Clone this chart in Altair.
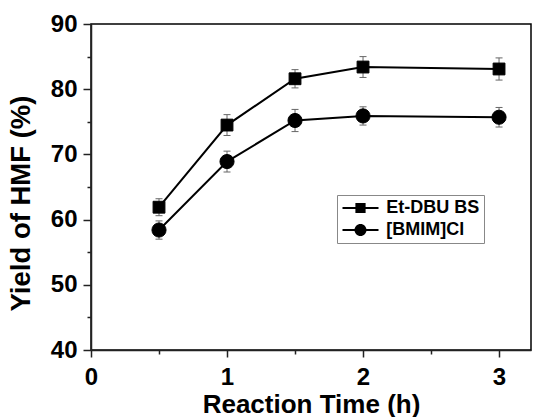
import altair as alt
import pandas as pd

# ---- data ----
times = [0.5, 1, 1.5, 2, 3]
series_names = ["Et-DBU BS", "[BMIM]Cl"]
et_dbu = [61.9, 74.5, 81.6, 83.4, 83.1]
et_dbu_err = [1.3, 1.6, 1.4, 1.6, 1.7]
bmim = [58.4, 68.9, 75.2, 75.9, 75.7]
bmim_err = [1.4, 1.6, 1.7, 1.4, 1.5]

x_major = [0, 1, 2, 3]
x_minor = [0.5, 1.5, 2.5]
y_major = [40, 50, 60, 70, 80, 90]
y_minor = [45, 55, 65, 75, 85]

rows = []
for s, vals, errs in [(series_names[0], et_dbu, et_dbu_err), (series_names[1], bmim, bmim_err)]:
    for t, v, e in zip(times, vals, errs):
        rows.append({"time": t, "value": v, "err": e, "series": s})
df = pd.DataFrame(rows)

FONT = "Liberation Sans"
AX = "#222222"

xs = alt.Scale(domain=[0, 3.235], nice=False, zero=False)
ys = alt.Scale(domain=[40, 90], nice=False, zero=False)

base = alt.Chart(df).transform_calculate(
    lo="datum.value - datum.err", hi="datum.value + datum.err"
)

x_major_axis = alt.Axis(values=x_major, format="d", title="Reaction Time (h)", orient="bottom",
                        tickSize=7, labelPadding=8, titleY=41, titleBaseline="top",
                        labelFlush=False)
y_major_axis = alt.Axis(values=y_major, format="d", title="Yield of HMF (%)", orient="left",
                        tickSize=8, labelPadding=6, titleX=-56, titleY=179, titleFontSize=27.5)
x_minor_axis = alt.Axis(values=x_minor, labels=False, domain=False, title=None, tickSize=4,
                        orient="bottom")
y_minor_axis = alt.Axis(values=y_minor, labels=False, domain=False, title=None, tickSize=4,
                        orient="left")

err_rule = base.mark_rule(color="#666666", strokeWidth=1).encode(
    x=alt.X("time:Q", scale=xs, axis=None),
    y=alt.Y("lo:Q", scale=ys, axis=None),
    y2="hi:Q",
)
cap_lo = base.mark_tick(orient="horizontal", size=7, thickness=1, color="#666666", opacity=1).encode(
    x=alt.X("time:Q", scale=xs, axis=None),
    y=alt.Y("lo:Q", scale=ys, axis=None),
)
cap_hi = base.mark_tick(orient="horizontal", size=7, thickness=1, color="#666666", opacity=1).encode(
    x=alt.X("time:Q", scale=xs, axis=None),
    y=alt.Y("hi:Q", scale=ys, axis=None),
)

lines = base.mark_line(color="black", strokeWidth=2).encode(
    x=alt.X("time:Q", scale=xs, axis=x_major_axis),
    y=alt.Y("value:Q", scale=ys, axis=y_major_axis),
    detail="series:N",
)

points = base.mark_point(filled=True, fill="black", stroke="black", strokeWidth=1,
                         opacity=1).encode(
    x=alt.X("time:Q", scale=xs, axis=None),
    y=alt.Y("value:Q", scale=ys, axis=None),
    shape=alt.Shape("series:N", scale=alt.Scale(domain=series_names, range=["square", "circle"]),
                    legend=None),
    size=alt.Size("series:N", scale=alt.Scale(domain=series_names, range=[140, 200]),
                  legend=None),
)

# legend glyphs: horizontal bar (line) + marker, all filled
sq_path = "M-2.4,-0.13H2.4V0.13H-2.4ZM-0.68,-0.68H0.68V0.68H-0.68Z"
circ_path = ("M-2.4,-0.13H2.4V0.13H-2.4Z"
             "M0.8,0A0.8,0.8,0,1,1,-0.8,0A0.8,0.8,0,1,1,0.8,0Z")

legend_layer = base.transform_filter("false").mark_point(
    filled=True, fill="black", stroke="black", strokeWidth=0, opacity=1, size=225
).encode(
    x=alt.X("time:Q", scale=xs, axis=x_minor_axis),
    y=alt.Y("value:Q", scale=ys, axis=y_minor_axis),
    shape=alt.Shape("series:N", scale=alt.Scale(domain=series_names, range=[sq_path, circ_path]),
                    legend=alt.Legend(title=None, orient="none", legendX=246, legendY=171,
                                      padding=4, rowPadding=4, strokeColor="#888888",
                                      fillColor="white", labelFont=FONT, labelFontSize=18,
                                      labelFontWeight="bold", labelColor="black",
                                      symbolSize=225, symbolOffset=10.5, labelOffset=16.8,
                                      symbolStrokeWidth=0, symbolFillColor="black",
                                      symbolOpacity=1)),
)

chart = alt.layer(err_rule, cap_lo, cap_hi, lines, points, legend_layer).resolve_scale(
    shape="independent", size="independent"
).resolve_axis(
    x="independent", y="independent"
).properties(
    width=440, height=326,
    padding={"left": 91, "top": 24, "right": 2, "bottom": 67},
    autosize=alt.AutoSizeParams(type="none"),
    background="white",
).configure_view(
    stroke="black", strokeWidth=1.5
).configure_axis(
    grid=False, domainColor=AX, domainWidth=1.5, tickColor=AX, tickWidth=1.5,
    labelFont=FONT, labelFontSize=24, labelFontWeight="bold", labelColor="black",
    titleFont=FONT, titleFontSize=26, titleFontWeight="bold", titleColor="black",
)

chart.save("out.html", embed_options={"renderer": "svg", "actions": False})
